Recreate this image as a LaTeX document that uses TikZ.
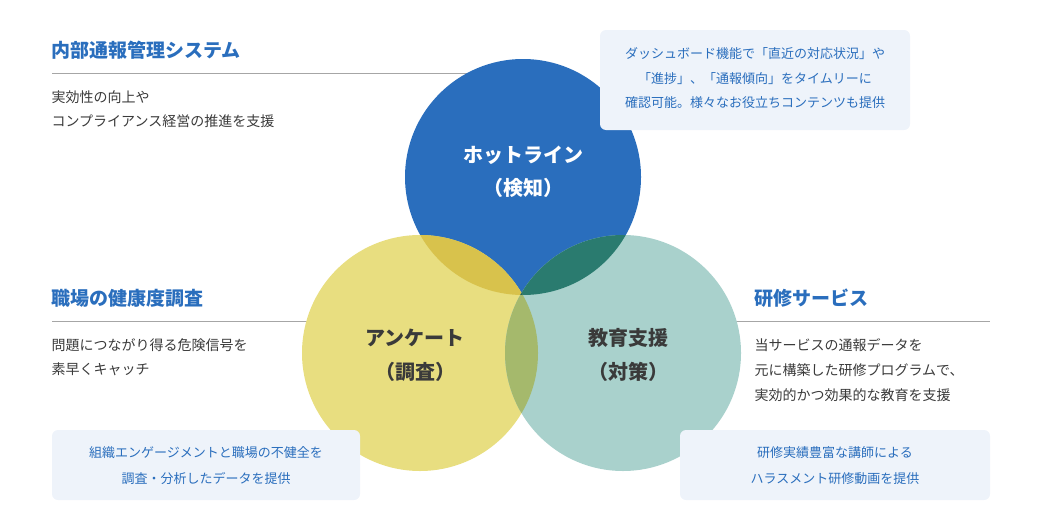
\documentclass[tikz,border=0pt]{standalone}
\usepackage{fontspec}
\setmainfont{Noto Sans CJK JP}
\newfontfamily\jpb{Noto Sans CJK JP}[BoldFont={* Bold}]
\definecolor{cblue}{HTML}{2A6EBD}
\definecolor{cyel}{HTML}{E8DE80}
\definecolor{cteal}{HTML}{A9D1CC}
\definecolor{oyb}{HTML}{D8C24C}
\definecolor{obt}{HTML}{2A7B6F}
\definecolor{oyt}{HTML}{A5B96C}
\definecolor{otx}{HTML}{3A3A3A}
\definecolor{boxbg}{HTML}{EEF3FA}
\definecolor{ttl}{HTML}{2A6EBD}
\tikzset{
 ttlt/.style={anchor=west,text=ttl,font=\fontsize{19}{22}\selectfont\bfseries},
 body/.style={anchor=west,text=otx,font=\fontsize{14}{16}\selectfont},
 boxt/.style={text=ttl,font=\fontsize{13}{15}\selectfont},
 infobox/.style={fill=boxbg,rounded corners=6pt,draw=none},
 circw/.style={text=white,font=\fontsize{20}{24}\selectfont\bfseries},
 circd/.style={text=otx,font=\fontsize{20}{24}\selectfont\bfseries},
 rule/.style={draw=gray!70,line width=0.6pt}
}
\begin{document}
\begin{tikzpicture}[x=1pt,y=-1pt]
\useasboundingbox (0,0) rectangle (1040,530);
% rules
\coordinate (r1a) at (52,73); \coordinate (r1b) at (470,73);
\coordinate (r2a) at (52,321); \coordinate (r2b) at (310,321);
\coordinate (r3a) at (735,321); \coordinate (r3b) at (990,321);
\draw[rule] (r1a)--(r1b); \draw[rule] (r2a)--(r2b); \draw[rule] (r3a)--(r3b);
% circles
\def\R{118}
\fill[cblue] (523,177) circle (\R);
\fill[cyel] (420,353) circle (\R);
\fill[cteal] (623,353) circle (\R);
\begin{scope}\clip (523,177) circle (\R); \fill[oyb] (420,353) circle (\R); \end{scope}
\begin{scope}\clip (523,177) circle (\R); \fill[obt] (623,353) circle (\R); \end{scope}
\begin{scope}\clip (420,353) circle (\R); \fill[oyt] (623,353) circle (\R); \end{scope}
\begin{scope}\clip (420,353) circle (\R); \clip (623,353) circle (\R); \fill[obt!80!black] (523,177) circle (\R); \end{scope}
% circle labels
\node[circw] (h1) at (523,155) {ホットライン};
\node[circw] (h2) at (523,188) {（検知）};
\node[circd] (a1) at (415,338) {アンケート};
\node[circd] (a2) at (415,372) {（調査）};
\node[circd] (k1) at (628,338) {教育支援};
\node[circd] (k2) at (628,372) {（対策）};
% titles
\node[ttlt] (t1) at (48,50) {内部通報管理システム};
\node[body] (b1) at (48,97) {実効性の向上や};
\node[body] (b2) at (48,121) {コンプライアンス経営の推進を支援};
\node[ttlt] (t2) at (48,298) {職場の健康度調査};
\node[body] (b3) at (48,345) {問題につながり得る危険信号を};
\node[body] (b4) at (48,369) {素早くキャッチ};
\node[ttlt] (t3) at (751,298) {研修サービス};
\node[body] (b5) at (751,345) {当サービスの通報データを};
\node[body] (b6) at (751,370) {元に構築した研修プログラムで、};
\node[body] (b7) at (751,395) {実効的かつ効果的な教育を支援};
% boxes
\fill[infobox] (600,30) rectangle (910,130);
\node[boxt] (x1) at (755,54) {ダッシュボード機能で「直近の対応状況」や};
\node[boxt] (x2) at (755,79) {「進捗」、「通報傾向」をタイムリーに};
\node[boxt] (x3) at (755,103) {確認可能。様々なお役立ちコンテンツも提供};
\fill[infobox] (52,430) rectangle (360,500);
\node[boxt] (y1) at (206,453) {組織エンゲージメントと職場の不健全を};
\node[boxt] (y2) at (206,479) {調査・分析したデータを提供};
\fill[infobox] (680,430) rectangle (990,500);
\node[boxt] (z1) at (835,453) {研修実績豊富な講師による};
\node[boxt] (z2) at (835,479) {ハラスメント研修動画を提供};
\end{tikzpicture}
\end{document}
